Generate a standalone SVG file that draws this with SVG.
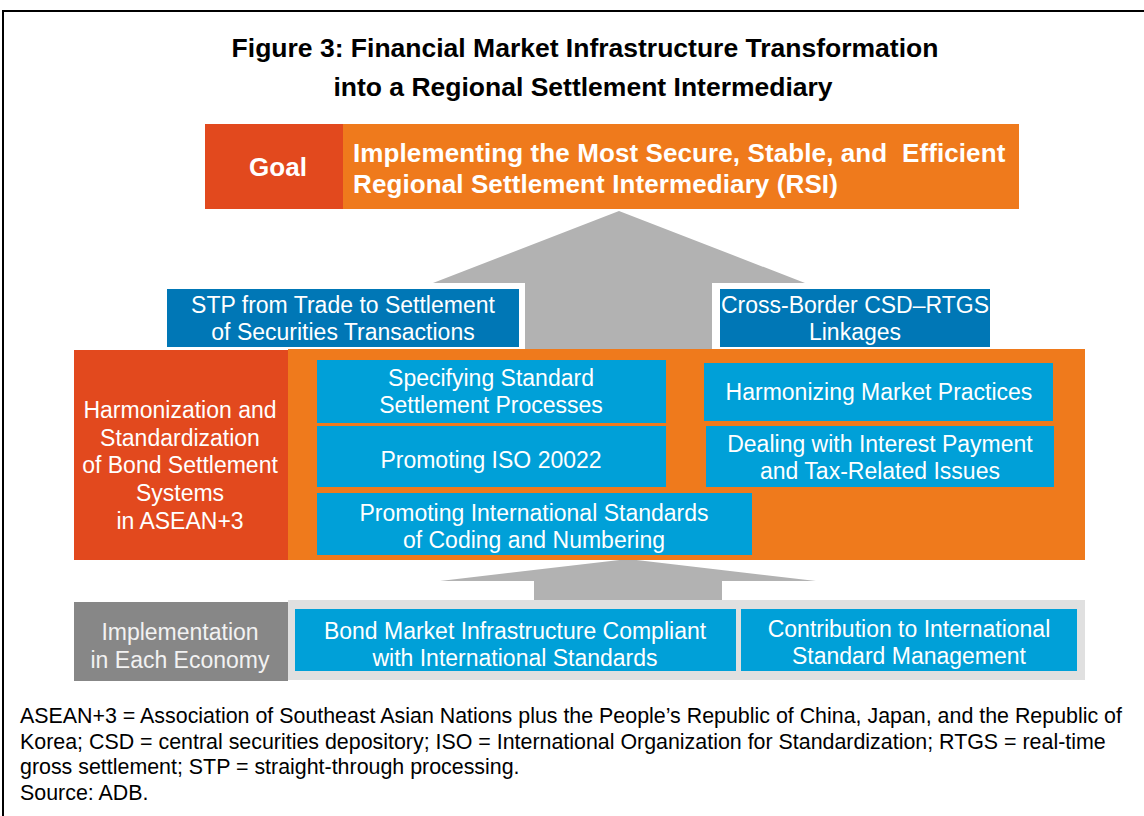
<svg xmlns="http://www.w3.org/2000/svg" width="1144" height="816" viewBox="0 0 1144 816">
<style>
text{font-family:"Liberation Sans",Arial,sans-serif;}
.t{font-size:26.5px;font-weight:bold;fill:#000;text-anchor:middle;}
.red{fill:#E2491E;}
.org{fill:#EF7A1C;}
.dblue{fill:#0077B6;}
.lblue{fill:#00A0D8;}
.arrow{fill:#B2B2B2;}
.w{fill:#fff;font-size:23px;text-anchor:middle;}
.g{fill:#f2f2f2;font-size:23px;text-anchor:middle;}
.wb{fill:#fff;font-size:26px;font-weight:bold;}
.note{fill:#000;font-size:21.4px;}
</style>
<rect x="0" y="0" width="1144" height="816" fill="#fff"/>
<rect x="3" y="11" width="1160" height="830" fill="none" stroke="#000" stroke-width="2"/>
<g id="title">
<text class="t" x="585" y="57">Figure 3: Financial Market Infrastructure Transformation</text>
<text class="t" x="583" y="96">into a Regional Settlement Intermediary</text>
</g>
<g id="connectors">
<polygon class="arrow" points="619,211 805,283 712,283 712,350 525,350 525,283 433,283"/>
<polygon class="arrow" points="628,559 816,581 722,581 722,601 534,601 534,581 440,581"/>
</g>
<g id="goal-label">
<rect class="red" x="205" y="124" width="138" height="85"/>
<text class="wb" x="278" y="176" text-anchor="middle">Goal</text>
</g>
<g id="goal">
<rect class="org" x="343" y="124" width="676" height="85"/>
<text class="wb" x="353" y="162" letter-spacing="0.1" xml:space="preserve" style="white-space:pre">Implementing the Most Secure, Stable, and  Efficient</text>
<text class="wb" x="353" y="193" letter-spacing="0.1">Regional Settlement Intermediary (RSI)</text>
</g>
<g id="stp">
<rect class="dblue" x="167" y="289" width="352" height="58"/>
<text class="w" x="343" y="313">STP from Trade to Settlement</text>
<text class="w" x="343" y="340">of Securities Transactions</text>
</g>
<g id="cross-border">
<rect class="dblue" x="720" y="289" width="270" height="58"/>
<text class="w" x="855" y="313">Cross-Border CSD–RTGS</text>
<text class="w" x="855" y="340">Linkages</text>
</g>
<g id="harmonization-label">
<rect class="red" x="74" y="350" width="214" height="210"/>
<text class="w" x="180" y="418">Harmonization and</text>
<text class="w" x="180" y="446">Standardization</text>
<text class="w" x="180" y="473">of Bond Settlement</text>
<text class="w" x="180" y="501">Systems</text>
<text class="w" x="180" y="529">in ASEAN+3</text>
</g>
<g id="harmonization">
<rect class="org" x="288" y="349" width="797" height="211"/>
</g>
<g id="specifying">
<rect class="lblue" x="317" y="360" width="349" height="63"/>
<text class="w" x="491" y="386">Specifying Standard</text>
<text class="w" x="491" y="413">Settlement Processes</text>
</g>
<g id="iso">
<rect class="lblue" x="317" y="426" width="349" height="61"/>
<text class="w" x="491" y="468">Promoting ISO 20022</text>
</g>
<g id="coding">
<rect class="lblue" x="317" y="493" width="435" height="62"/>
<text class="w" x="534" y="521">Promoting International Standards</text>
<text class="w" x="534" y="548">of Coding and Numbering</text>
</g>
<g id="market-practices">
<rect class="lblue" x="704" y="363" width="349" height="58"/>
<text class="w" x="879" y="400">Harmonizing Market Practices</text>
</g>
<g id="interest">
<rect class="lblue" x="706" y="426" width="348" height="61"/>
<text class="w" x="880" y="452">Dealing with Interest Payment</text>
<text class="w" x="880" y="479">and Tax-Related Issues</text>
</g>
<g id="implementation-label">
<rect x="74" y="602" width="214" height="79" fill="#878787"/>
<text class="g" x="180" y="640">Implementation</text>
<text class="g" x="180" y="668">in Each Economy</text>
</g>
<g id="implementation">
<rect x="288" y="600" width="797" height="80" fill="#E0E0E0"/>
</g>
<g id="bond-infra">
<rect class="lblue" x="295" y="609" width="441" height="62"/>
<text class="w" x="515" y="639">Bond Market Infrastructure Compliant</text>
<text class="w" x="515" y="666">with International Standards</text>
</g>
<g id="contribution">
<rect class="lblue" x="741" y="609" width="336" height="62"/>
<text class="w" x="909" y="637">Contribution to International</text>
<text class="w" x="909" y="664">Standard Management</text>
</g>
<g id="notes">
<text class="note" x="20" y="723">ASEAN+3 = Association of Southeast Asian Nations plus the People’s Republic of China, Japan, and the Republic of</text>
<text class="note" x="20" y="749">Korea; CSD = central securities depository; ISO = International Organization for Standardization; RTGS = real-time</text>
<text class="note" x="20" y="774">gross settlement; STP = straight-through processing.</text>
<text class="note" x="20" y="800">Source: ADB.</text>
</g>
</svg>
